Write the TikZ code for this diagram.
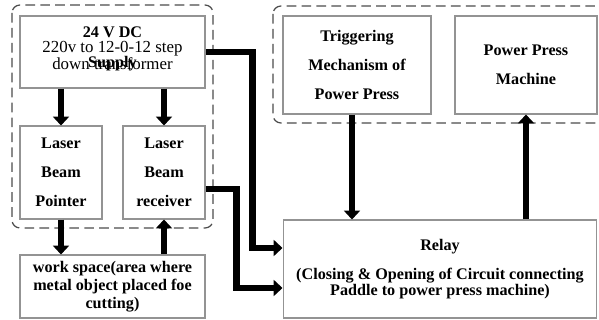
\documentclass[tikz,border=0pt]{standalone}
\usepackage{fontspec}
\setmainfont{Liberation Serif}
\usetikzlibrary{arrows.meta}
\begin{document}
\begin{tikzpicture}[x=0.02cm,y=-0.02cm,
  block/.style={draw=gray!85,line width=0.6pt,inner sep=0pt,align=center,
    font=\bfseries\fontsize{9.2}{16.5}\selectfont},
  group/.style={draw=black!70,dash pattern=on 5.5pt off 3pt,line width=0.7pt,rounded corners=0.16cm},
  fat/.style={line width=3.8pt,-{Triangle[width=9pt,length=5pt]}},
]
\useasboundingbox (0,0) rectangle (599,320);
% dashed groups
\draw[group] (12,5) rectangle (213,228);
\draw[group] (273,6) rectangle (610,123);
% blocks
\node[block,minimum width=3.7cm,minimum height=1.44cm] (supply) at (112.5,52) {};
\node[align=center,font=\bfseries\fontsize{9.2}{17}\selectfont] (supplytitle) at ([yshift=0.06cm]supply.center) {24 V DC\\Supply};
\node[align=center,font=\fontsize{9.6}{9.4}\selectfont] (supplynote) at ([yshift=-0.07cm]supply.center) {220v to 12-0-12 step\\down transformer};
\node[block,minimum width=1.64cm,minimum height=1.86cm] (pointer) at (61,172.5) {Laser\\Beam\\Pointer};
\node[block,minimum width=1.64cm,minimum height=1.86cm] (receiver) at (164,172.5) {Laser\\Beam\\receiver};
\node[block,minimum width=3.7cm,minimum height=1.26cm,
  font=\bfseries\fontsize{9.2}{10.3}\selectfont] (work) at (112.5,286.5) {work space(area where\\metal object placed foe\\cutting)};
\node[block,minimum width=2.96cm,minimum height=1.96cm] (trig) at (357,65) {Triggering\\Mechanism of\\Power Press};
\node[block,minimum width=2.84cm,minimum height=1.96cm] (press) at (526,65) {Power Press\\Machine};
\node[block,minimum width=6.28cm,minimum height=1.96cm,
  font=\bfseries\fontsize{9.2}{9.4}\selectfont] (relay) at (440,269) {Relay\\[7pt](Closing \& Opening of Circuit connecting\\Paddle to power press machine)};
% arrows
\draw[fat] (pointer.north |- supply.south) -- (pointer.north);
\draw[fat] (receiver.north |- supply.south) -- (receiver.north);
\draw[fat] (pointer.south) -- (pointer.south |- work.north);
\draw[fat] (receiver.south |- work.north) -- (receiver.south);
\draw[fat] ([xshift=-0.1cm]trig.south) -- ([xshift=-0.1cm]trig.south |- relay.north);
\draw[fat] (press.south |- relay.north) -- (press.south);
\draw[fat] (supply.east) -- ++(47,0) |- ([yshift=0.42cm]relay.west);
\draw[fat] ([yshift=-0.33cm]receiver.east) -- ++(31,0) |- ([yshift=-0.38cm]relay.west);
\end{tikzpicture}
\end{document}
